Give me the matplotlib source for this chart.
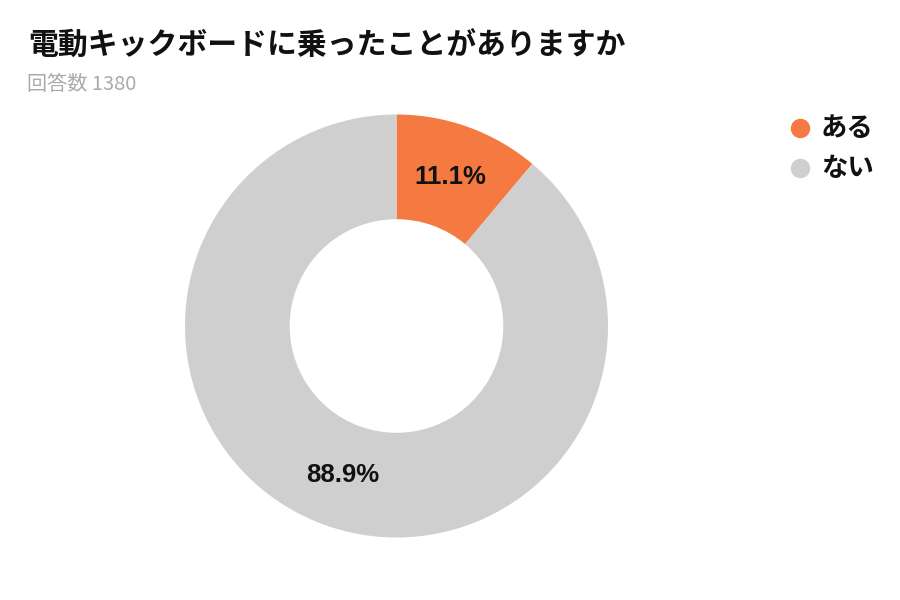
import matplotlib
matplotlib.use("Agg")
import matplotlib.pyplot as plt
from matplotlib.lines import Line2D
import numpy as np

plt.rcParams['font.family'] = ['Noto Sans CJK JP', 'DejaVu Sans']

title = "電動キックボードに乗ったことがありますか"
subtitle = "回答数 1380"
labels = ["ある", "ない"]
shares = [11.1, 88.9]
colors = ["#F47A42", "#CFCFCF"]

fig = plt.figure(figsize=(9, 6), dpi=100)
fig.patch.set_facecolor("white")

# pie area: center ~ (396, 326) px, radius ~ 211 px
cx, cy, r = 396.5, 326, 211.5
ax = fig.add_axes([(cx - r) / 900, (600 - cy - r) / 600, 2 * r / 900, 2 * r / 600])
wedges, _ = ax.pie(shares, colors=colors, startangle=90, counterclock=False,
                   radius=1, wedgeprops=dict(width=0.495, edgecolor="white", linewidth=0))
ax.set_xlim(-1, 1)
ax.set_ylim(-1, 1)
ax.set_aspect("equal")
ax.axis("off")

# percentage labels at mid-ring
start = 90
for val in shares:
    mid = start - val / 100 * 360 / 2
    x = 0.75 * np.cos(np.radians(mid))
    y = 0.75 * np.sin(np.radians(mid))
    ax.text(x, y, f"{val}%", ha="center", va="center", fontsize=18.5,
            fontweight="bold", family=["Liberation Sans", "DejaVu Sans"], color="#111111")
    start -= val / 100 * 360

fig.text(28 / 900, 1 - 46 / 600, title, fontsize=21.5, fontweight="bold",
         va="center", ha="left", color="#111111")
fig.text(27 / 900, 1 - 84 / 600, subtitle, fontsize=14.5, va="center", ha="left",
         color="#AAAAAA")

for i, (lab, c) in enumerate(zip(labels, colors)):
    yy = 1 - (128 + i * 40) / 600
    fig.add_artist(Line2D([800 / 900], [yy], marker="o", markersize=13,
                          color=c, linestyle="none", transform=fig.transFigure))
    fig.text(821 / 900, yy, lab, fontsize=19, fontweight="bold", va="center",
             ha="left", color="#111111")

fig.savefig("out.png", dpi=100, facecolor="white")
